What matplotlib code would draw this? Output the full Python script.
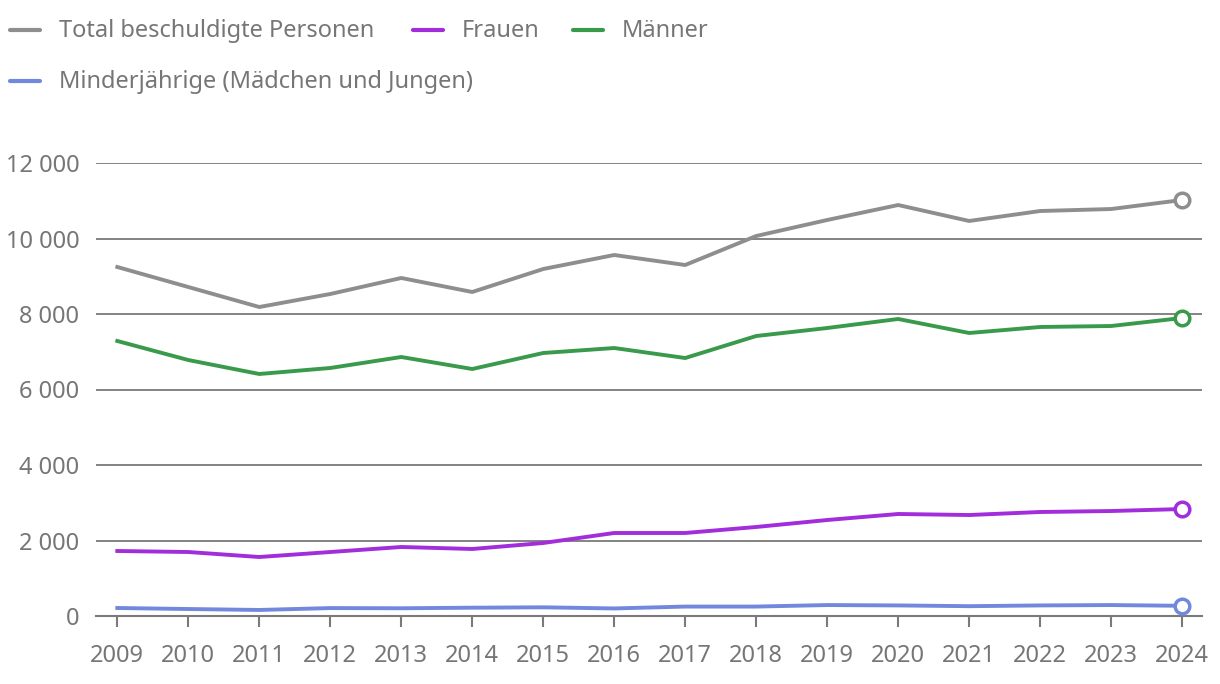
import matplotlib
matplotlib.use("Agg")
import matplotlib.pyplot as plt
from matplotlib.lines import Line2D
from matplotlib.ticker import FuncFormatter

plt.rcParams['font.family'] = ['Noto Sans', 'DejaVu Sans']

years = list(range(2009, 2025))
total = [9245, 8715, 8185, 8530, 8954, 8583, 9192, 9563, 9298, 10066, 10490, 10887, 10464, 10728, 10781, 11020]
maenner = [7285, 6781, 6411, 6570, 6861, 6543, 6967, 7099, 6834, 7417, 7629, 7868, 7497, 7656, 7682, 7894]
frauen = [1722, 1695, 1563, 1695, 1828, 1775, 1934, 2199, 2199, 2358, 2543, 2702, 2675, 2755, 2781, 2834]
minderjaehrige = [212, 185, 160, 210, 205, 220, 230, 200, 250, 250, 290, 280, 260, 280, 290, 270]

labels = ["Total beschuldigte Personen", "Frauen", "Männer", "Minderjährige (Mädchen und Jungen)"]
colors = ["#8e8e8e", "#a22ddb", "#3a9a4c", "#7188dc"]
series = [total, frauen, maenner, minderjaehrige]

text_col = "#767676"
grid_col = "#7a7a7a"
fs = 17

fig = plt.figure(figsize=(12.2, 6.84), dpi=100)
ax = fig.add_axes([96/1220, 1 - 616/684, (1202-96)/1220, (616-163)/684])

for vals, c in zip(series, colors):
    ax.plot(years, vals, color=c, lw=2.8, solid_joinstyle='round', clip_on=False, zorder=3)
    ax.plot(years[-1], vals[-1], 'o', ms=10.5, mfc='white', mec=c, mew=2.5, clip_on=False, zorder=4)

ax.set_xlim(2008.7, 2024.28)
ax.set_ylim(0, 12000)
ax.set_yticks(range(0, 12001, 2000))
ax.set_xticks(years)
ax.yaxis.set_major_formatter(FuncFormatter(lambda v, p: f"{int(v):,}".replace(",", " ")))
ax.grid(axis='y', color=grid_col, lw=1.3)
ax.set_axisbelow(True)
for s in ['top', 'right', 'left']:
    ax.spines[s].set_visible(False)
ax.spines['bottom'].set_color(grid_col)
ax.spines['bottom'].set_linewidth(1.5)
ax.tick_params(axis='y', length=0, pad=12, labelsize=fs, labelcolor=text_col)
ax.tick_params(axis='x', length=8, width=1.5, color=grid_col, pad=12, labelsize=fs, labelcolor=text_col)

# legend drawn by hand to match the two-row layout
W, H = 1220, 684
leg_pos = [(10, 30), (413, 30), (573, 30), (10, 81)]
for (x, y), lab, c in zip(leg_pos, labels, colors):
    fig.add_artist(Line2D([x/W, (x+30)/W], [1-y/H, 1-y/H], color=c, lw=3, solid_capstyle='round'))
    fig.text((x+49)/W, 1-(y+1)/H, lab, color=text_col, fontsize=fs, va='center', ha='left')

fig.savefig("out.png", dpi=100)
